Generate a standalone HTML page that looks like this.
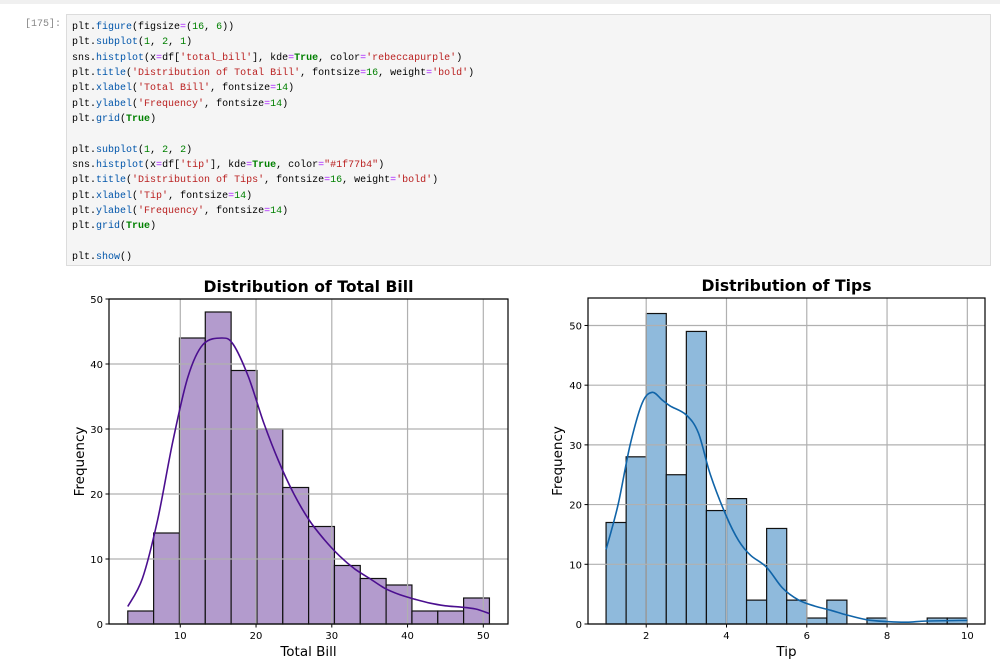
<!DOCTYPE html>
<html><head><meta charset="utf-8"><style>
body{margin:0;width:1000px;height:666px;background:#fff;overflow:hidden;position:relative;font-family:"Liberation Sans",sans-serif}
#topline{position:absolute;left:0;top:0;width:1000px;height:4px;background:#f0f0f0}
#prompt{position:absolute;left:25px;top:19px;font:10px "Liberation Mono",monospace;color:#888}
#code{position:absolute;left:66px;top:14px;width:925px;height:252px;background:#f5f5f5;border:1px solid #dcdcdc;box-sizing:border-box}
#code pre{margin:0;position:absolute;left:5px;top:5px;font:10px/15.33px "Liberation Mono",monospace;color:#000}
.f{color:#0055aa}.n{color:#008000}.s{color:#ba2121}.o{color:#aa22ff}.k{color:#008000;font-weight:bold}
svg{position:absolute;left:0;top:0;font-family:"DejaVu Sans",sans-serif}
</style></head><body>
<div id="topline"></div>
<div id="prompt">[175]:</div>
<div id="code"><pre>plt.<span class="f">figure</span>(figsize<span class="o">=</span>(<span class="n">16</span>, <span class="n">6</span>))
plt.<span class="f">subplot</span>(<span class="n">1</span>, <span class="n">2</span>, <span class="n">1</span>)
sns.<span class="f">histplot</span>(x<span class="o">=</span>df[<span class="s">'total_bill'</span>], kde<span class="o">=</span><span class="k">True</span>, color<span class="o">=</span><span class="s">'rebeccapurple'</span>)
plt.<span class="f">title</span>(<span class="s">'Distribution of Total Bill'</span>, fontsize<span class="o">=</span><span class="n">16</span>, weight<span class="o">=</span><span class="s">'bold'</span>)
plt.<span class="f">xlabel</span>(<span class="s">'Total Bill'</span>, fontsize<span class="o">=</span><span class="n">14</span>)
plt.<span class="f">ylabel</span>(<span class="s">'Frequency'</span>, fontsize<span class="o">=</span><span class="n">14</span>)
plt.<span class="f">grid</span>(<span class="k">True</span>)

plt.<span class="f">subplot</span>(<span class="n">1</span>, <span class="n">2</span>, <span class="n">2</span>)
sns.<span class="f">histplot</span>(x<span class="o">=</span>df[<span class="s">'tip'</span>], kde<span class="o">=</span><span class="k">True</span>, color<span class="o">=</span><span class="s">"#1f77b4"</span>)
plt.<span class="f">title</span>(<span class="s">'Distribution of Tips'</span>, fontsize<span class="o">=</span><span class="n">16</span>, weight<span class="o">=</span><span class="s">'bold'</span>)
plt.<span class="f">xlabel</span>(<span class="s">'Tip'</span>, fontsize<span class="o">=</span><span class="n">14</span>)
plt.<span class="f">ylabel</span>(<span class="s">'Frequency'</span>, fontsize<span class="o">=</span><span class="n">14</span>)
plt.<span class="f">grid</span>(<span class="k">True</span>)

plt.<span class="f">show</span>()</pre></div>
<svg id="chart" width="1000" height="666" xmlns="http://www.w3.org/2000/svg"></svg>
<script>
const billBinStart = 3.07;
const billBinWidth = 3.41;
const billCounts = [2,14,44,48,39,30,21,15,9,7,6,2,2,4];
const billKdeX = [3.07,5,7,9,11,13,15.5,17,19,21,23,25,27,29,31,33,35,37,39,41,43,45,47,49,50.8];
const billKdeY = [2.7,7,16,28,38,43,44,43,38,31,25,20,16,13,10.5,8.5,7,5.5,4.5,3.8,3.2,2.8,2.6,2.3,1.6];
const billXTicks = [10,20,30,40,50];
const billYTicks = [0,10,20,30,40,50];

const tipBinStart = 1;
const tipBinWidth = 0.5;
const tipCounts = [17,28,52,25,49,19,21,4,16,4,1,4,0,1,0,0,1,1];
const tipKdeX = [1,1.3,1.6,1.9,2.15,2.4,2.6,3,3.3,3.6,4,4.3,4.6,5,5.4,5.8,6.2,6.6,7,7.5,8,8.5,9,10];
const tipKdeY = [12.5,20,30,37,38.8,37.5,36.5,35,32,25,18,14,11.5,9.5,6,4,3,2.3,1.5,0.7,0.4,0.3,0.5,0.6];
const tipXTicks = [2,4,6,8,10];
const tipYTicks = [0,10,20,30,40,50];

const NS='http://www.w3.org/2000/svg';
const svg=document.getElementById('chart');
function mk(tag,attrs,parent){const e=document.createElementNS(NS,tag);for(const k in attrs)e.setAttribute(k,attrs[k]);(parent||svg).appendChild(e);return e;}
function smooth(pts){
  let d='M'+pts[0][0].toFixed(1)+','+pts[0][1].toFixed(1);
  for(let i=0;i<pts.length-1;i++){
    const p0=pts[Math.max(0,i-1)],p1=pts[i],p2=pts[i+1],p3=pts[Math.min(pts.length-1,i+2)];
    const c1=[p1[0]+(p2[0]-p0[0])/6,p1[1]+(p2[1]-p0[1])/6];
    const c2=[p2[0]-(p3[0]-p1[0])/6,p2[1]-(p3[1]-p1[1])/6];
    d+=' C'+c1[0].toFixed(1)+','+c1[1].toFixed(1)+' '+c2[0].toFixed(1)+','+c2[1].toFixed(1)+' '+p2[0].toFixed(1)+','+p2[1].toFixed(1);
  }
  return d;
}

function drawPanel(o){
  const g=mk('g',{});
  
  
  const sx=v=>o.x0+(v-o.xmin)/(o.xmax-o.xmin)*(o.x1-o.x0);
  const sy=v=>o.y1-(v-o.ymin)/(o.ymax-o.ymin)*(o.y1-o.y0);
  o.counts.forEach((c,i)=>{
    const a=o.binStart+i*o.binWidth,b=a+o.binWidth;
    if(c<=0)return;
    const r=mk('rect',{x:sx(a),y:sy(c),width:sx(b)-sx(a),height:sy(0)-sy(c),fill:o.fill,stroke:'#111','stroke-width':1.2},g);
    
    
  });
  o.xticks.forEach(t=>{
    const l=mk('line',{x1:sx(t),x2:sx(t),y1:o.y0,y2:o.y1,stroke:'#b0b0b0','stroke-width':1.2},g);
    
    
    mk('line',{x1:sx(t),x2:sx(t),y1:o.y1,y2:o.y1+3.5,stroke:'#000'},g);
    const tx=mk('text',{x:sx(t),y:o.y1+15,'text-anchor':'middle','font-size':10,fill:'#000'},g);
    tx.textContent=t;
    
    
  });
  o.yticks.forEach(t=>{
    const l=mk('line',{x1:o.x0,x2:o.x1,y1:sy(t),y2:sy(t),stroke:'#b0b0b0','stroke-width':1.2},g);
    
    
    mk('line',{x1:o.x0-3.5,x2:o.x0,y1:sy(t),y2:sy(t),stroke:'#000'},g);
    const tx=mk('text',{x:o.x0-6,y:sy(t)+4,'text-anchor':'end','font-size':10,fill:'#000'},g);
    tx.textContent=t;
    
    
  });
  const pts=o.kx.map((x,i)=>[sx(x),sy(o.ky[i])]);
  const p=mk('path',{d:smooth(pts),fill:'none',stroke:o.line,'stroke-width':1.6,'stroke-linejoin':'round'},g);
  
  
  const fr=mk('rect',{x:o.x0,y:o.y0,width:o.x1-o.x0,height:o.y1-o.y0,fill:'none',stroke:'#000','stroke-width':1.2},g);
  
  
  const ti=mk('text',{x:(o.x0+o.x1)/2,y:o.y0-7,'text-anchor':'middle','font-size':16,'font-weight':'bold',fill:'#000',textLength:o.titleLen,lengthAdjust:'spacingAndGlyphs'},g);
  ti.textContent=o.title;
  
  
  const xl=mk('text',{x:(o.x0+o.x1)/2,y:o.y1+32,'text-anchor':'middle','font-size':13.5,fill:'#000'},g);
  xl.textContent=o.xlabel;
  
  
  const yc=(o.y0+o.y1)/2;
  const yl=mk('text',{x:o.ylx,y:yc,'text-anchor':'middle','font-size':13.5,fill:'#000',transform:'rotate(-90 '+o.ylx+' '+yc+')'},g);
  yl.textContent='Frequency';
  
  
}
drawPanel({id:'total-bill',x0:109,x1:508,y0:299,y1:624,xmin:0.59,xmax:53.26,ymin:0,ymax:50,
  counts:billCounts,binStart:billBinStart,binWidth:billBinWidth,kx:billKdeX,ky:billKdeY,
  xticks:billXTicks,yticks:billYTicks,fill:'#b39bcd',line:'#4b0f8f',title:'Distribution of Total Bill',titleLen:210,xlabel:'Total Bill',ylx:84});
drawPanel({id:'tips',x0:588,x1:985,y0:298,y1:624,xmin:0.55,xmax:10.44,ymin:0,ymax:54.6,
  counts:tipCounts,binStart:tipBinStart,binWidth:tipBinWidth,kx:tipKdeX,ky:tipKdeY,
  xticks:tipXTicks,yticks:tipYTicks,fill:'#8fbadc',line:'#1064a8',title:'Distribution of Tips',titleLen:170,xlabel:'Tip',ylx:562});
</script>
</body></html>
